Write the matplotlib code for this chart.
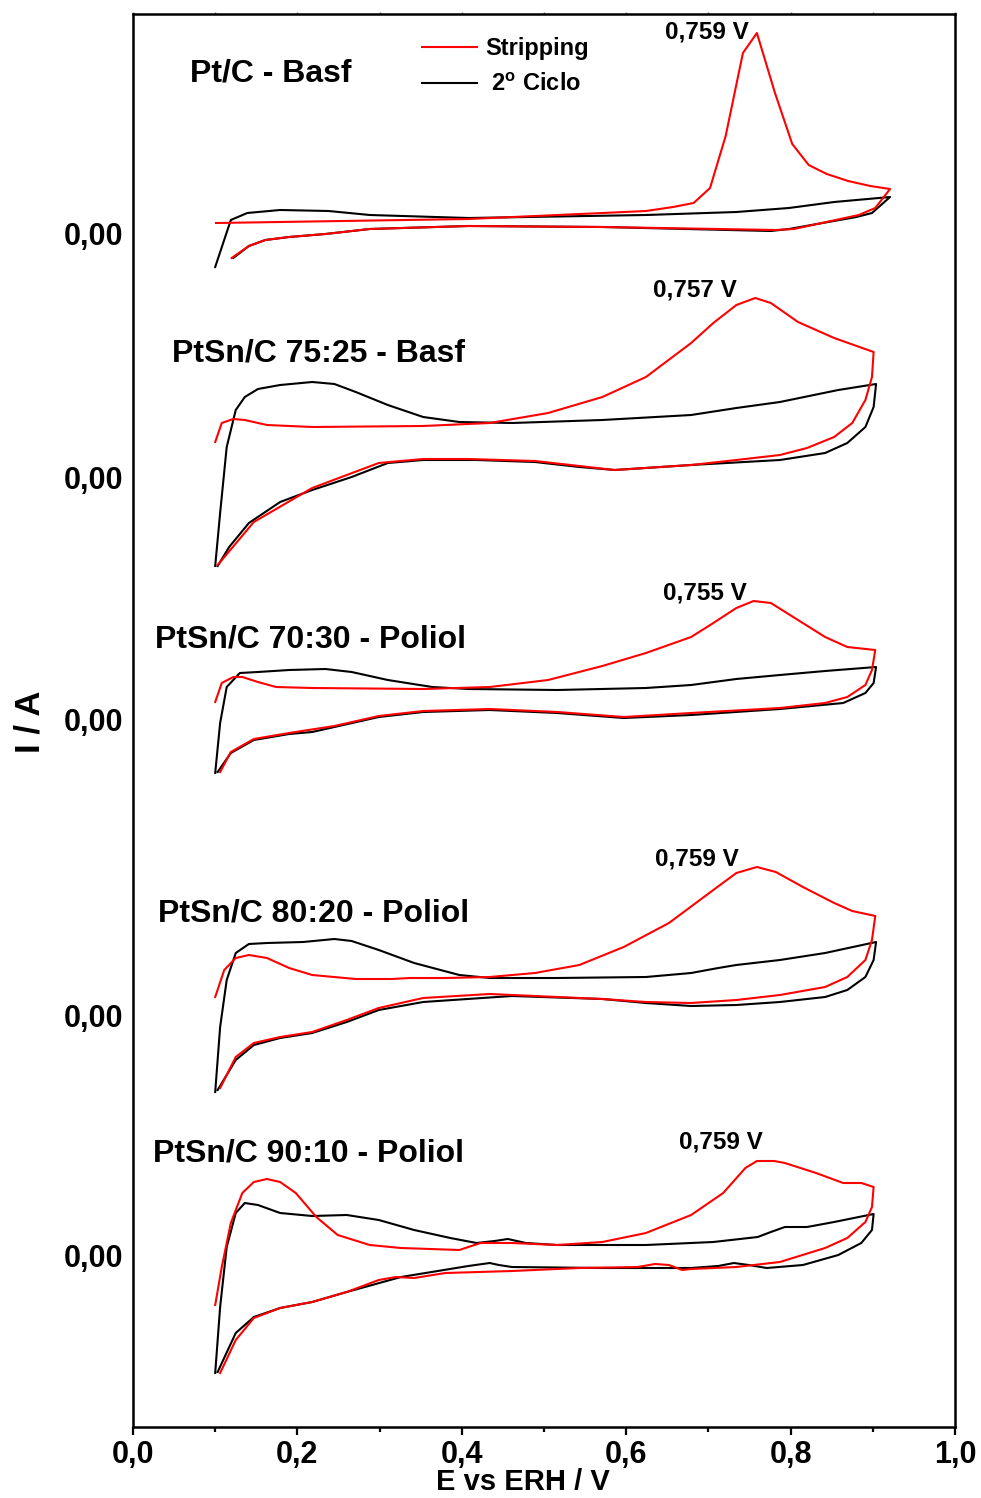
import matplotlib
matplotlib.use("Agg")
import matplotlib.pyplot as plt
from matplotlib import font_manager
from matplotlib.ticker import MultipleLocator, FuncFormatter, NullFormatter

# amostras e potencial dos picos de oxidação de CO
amostras = ["Pt/C - Basf", "PtSn/C 75:25 - Basf", "PtSn/C 70:30 - Poliol",
            "PtSn/C 80:20 - Poliol", "PtSn/C 90:10 - Poliol"]
picos = [0.759, 0.757, 0.755, 0.759, 0.759]

# Pt/C - Basf
e_strip_ptc = [0.101, 0.408, 0.571, 0.624, 0.657, 0.682, 0.702, 0.721, 0.742, 0.759, 0.781, 0.802, 0.822,
               0.844, 0.870, 0.897, 0.921, 0.903, 0.883, 0.804, 0.782, 0.571, 0.408, 0.288, 0.234, 0.190,
               0.161, 0.141, 0.120]
i_strip_ptc = [11, 15, 21, 23, 27, 31, 46, 98, 181, 201, 141, 90, 69, 60, 53, 48, 45, 26, 19, 5, 4, 7, 8,
               5, 0, -3, -6, -12, -24]
e_ciclo_ptc = [0.100, 0.119, 0.139, 0.179, 0.238, 0.288, 0.408, 0.624, 0.734, 0.798, 0.853, 0.921, 0.899,
               0.880, 0.798, 0.776, 0.571, 0.408, 0.288, 0.234, 0.190, 0.161, 0.141, 0.122]
i_ciclo_ptc = [-33, 14, 21, 24, 23, 19, 16, 19, 22, 26, 32, 37, 21, 17, 5, 3, 7, 8, 5, 0, -3, -6, -12, -24]

# PtSn/C 75:25 - Basf
e_strip_7525 = [0.100, 0.108, 0.122, 0.136, 0.163, 0.218, 0.353, 0.434, 0.505, 0.571, 0.624, 0.679, 0.706,
                0.734, 0.757, 0.776, 0.809, 0.853, 0.901, 0.899, 0.891, 0.875, 0.853, 0.820, 0.787, 0.734,
                0.679, 0.586, 0.489, 0.408, 0.353, 0.299, 0.218, 0.147, 0.103]
i_strip_7525 = [36, 55, 59, 58, 53, 51, 52, 55, 65, 81, 101, 135, 155, 173, 180, 175, 156, 140, 126, 101,
                78, 55, 41, 30, 23, 18, 13, 8, 17, 19, 19, 15, -10, -44, -87]
e_ciclo_7525 = [0.100, 0.106, 0.114, 0.125, 0.136, 0.152, 0.179, 0.218, 0.245, 0.271, 0.310, 0.353, 0.397,
                0.461, 0.571, 0.679, 0.734, 0.787, 0.858, 0.904, 0.901, 0.891, 0.869, 0.842, 0.787, 0.679,
                0.586, 0.543, 0.489, 0.418, 0.353, 0.310, 0.266, 0.218, 0.179, 0.141, 0.117, 0.103]
i_ciclo_7525 = [-88, -35, 31, 68, 81, 89, 93, 96, 94, 86, 73, 61, 56, 55, 58, 63, 70, 76, 88, 94, 71, 51,
                35, 25, 18, 13, 8, 11, 16, 18, 18, 15, 1, -12, -24, -45, -69, -88]

# PtSn/C 70:30 - Poliol
e_strip_7030 = [0.100, 0.108, 0.122, 0.133, 0.152, 0.174, 0.218, 0.353, 0.434, 0.505, 0.571, 0.624, 0.679,
                0.706, 0.734, 0.755, 0.776, 0.809, 0.842, 0.869, 0.903, 0.899, 0.891, 0.869, 0.842, 0.787,
                0.679, 0.597, 0.516, 0.434, 0.353, 0.299, 0.245, 0.190, 0.147, 0.119, 0.106]
i_strip_7030 = [17, 36, 42, 42, 37, 32, 31, 30, 32, 39, 53, 66, 82, 96, 111, 118, 116, 99, 82, 72, 69, 49,
                34, 22, 16, 11, 6, 2, 7, 10, 8, 3, -7, -14, -20, -33, -53]
e_ciclo_7030 = [0.100, 0.106, 0.114, 0.130, 0.152, 0.190, 0.234, 0.266, 0.310, 0.364, 0.408, 0.516, 0.624,
                0.679, 0.734, 0.787, 0.842, 0.904, 0.901, 0.891, 0.864, 0.787, 0.679, 0.597, 0.516, 0.434,
                0.353, 0.299, 0.245, 0.218, 0.190, 0.147, 0.119, 0.103]
i_ciclo_7030 = [-54, -4, 32, 46, 47, 49, 50, 47, 39, 32, 30, 29, 31, 34, 40, 44, 48, 52, 36, 26, 16, 10, 4,
                1, 6, 9, 7, 2, -8, -13, -15, -21, -34, -53]

# PtSn/C 80:20 - Poliol
e_strip_8020 = [0.100, 0.111, 0.125, 0.141, 0.163, 0.190, 0.218, 0.271, 0.315, 0.337, 0.380, 0.434, 0.489,
                0.543, 0.597, 0.652, 0.706, 0.734, 0.759, 0.782, 0.815, 0.853, 0.875, 0.903, 0.899, 0.891,
                0.869, 0.842, 0.787, 0.734, 0.679, 0.624, 0.571, 0.516, 0.434, 0.353, 0.299, 0.260, 0.218,
                0.179, 0.147, 0.125, 0.106]
i_strip_8020 = [18, 45, 57, 60, 57, 47, 40, 36, 36, 37, 37, 38, 42, 50, 68, 92, 125, 142, 148, 143, 128,
                112, 104, 99, 75, 55, 38, 28, 20, 15, 12, 13, 16, 18, 21, 17, 7, -5, -17, -22, -28, -42, -73]
e_ciclo_8020 = [0.100, 0.106, 0.114, 0.125, 0.141, 0.163, 0.207, 0.245, 0.266, 0.299, 0.342, 0.397, 0.434,
                0.516, 0.624, 0.679, 0.712, 0.734, 0.787, 0.842, 0.904, 0.901, 0.891, 0.869, 0.842, 0.787,
                0.734, 0.679, 0.624, 0.571, 0.461, 0.353, 0.299, 0.260, 0.218, 0.179, 0.147, 0.125, 0.103]
i_ciclo_8020 = [-77, -12, 35, 62, 71, 72, 73, 76, 74, 65, 52, 40, 37, 37, 38, 42, 47, 50, 55, 62, 73, 55,
                38, 25, 18, 13, 10, 9, 12, 16, 19, 13, 5, -7, -18, -23, -30, -45, -75]

# PtSn/C 90:10 - Poliol
e_strip_9010 = [0.100, 0.108, 0.119, 0.133, 0.147, 0.163, 0.179, 0.198, 0.223, 0.249, 0.288, 0.326, 0.397,
                0.408, 0.423, 0.461, 0.516, 0.571, 0.624, 0.679, 0.718, 0.745, 0.759, 0.780, 0.793, 0.831,
                0.864, 0.886, 0.901, 0.899, 0.891, 0.869, 0.842, 0.787, 0.734, 0.679, 0.668, 0.652, 0.635,
                0.614, 0.543, 0.461, 0.380, 0.342, 0.320, 0.299, 0.260, 0.218, 0.179, 0.147, 0.125, 0.106]
i_strip_9010 = [-49, -11, 33, 63, 74, 77, 74, 63, 39, 21, 11, 8, 6, 9, 13, 13, 11, 14, 23, 41, 63, 88, 95,
                95, 93, 83, 73, 73, 69, 49, 34, 18, 8, -6, -11, -13, -14, -9, -8, -11, -12, -15, -17, -22,
                -21, -24, -36, -46, -52, -62, -84, -117]
e_ciclo_9010 = [0.100, 0.106, 0.114, 0.125, 0.136, 0.152, 0.179, 0.218, 0.260, 0.299, 0.342, 0.386, 0.418,
                0.440, 0.456, 0.478, 0.516, 0.624, 0.706, 0.760, 0.776, 0.793, 0.820, 0.853, 0.901, 0.899,
                0.886, 0.858, 0.815, 0.771, 0.749, 0.731, 0.712, 0.679, 0.571, 0.461, 0.445, 0.434, 0.408,
                0.326, 0.260, 0.218, 0.179, 0.147, 0.125, 0.103]
i_ciclo_9010 = [-117, -51, 9, 43, 53, 51, 43, 40, 41, 36, 26, 18, 13, 15, 17, 13, 11, 11, 14, 19, 24, 29,
                29, 34, 42, 26, 13, 1, -9, -12, -9, -7, -10, -12, -12, -11, -9, -7, -10, -21, -36, -46, -52,
                -61, -77, -116]

strip = [(e_strip_ptc, i_strip_ptc), (e_strip_7525, i_strip_7525), (e_strip_7030, i_strip_7030),
         (e_strip_8020, i_strip_8020), (e_strip_9010, i_strip_9010)]
ciclo = [(e_ciclo_ptc, i_ciclo_ptc), (e_ciclo_7525, i_ciclo_7525), (e_ciclo_7030, i_ciclo_7030),
         (e_ciclo_8020, i_ciclo_8020), (e_ciclo_9010, i_ciclo_9010)]

# deslocamento vertical de cada voltamograma e posições dos textos
desloc = [1193, 949, 708, 412, 171]
pos_nome = [(0.069, 1353), (0.047, 1074), (0.027, 788), (0.030, 514), (0.024, 274)]
pos_pico = [(-6, 1), (-13, 6), (-5, 6), (-13, 6), (4, 14)]

# fontes
nomes = {f.name for f in font_manager.fontManager.ttflist}
estreita = "Liberation Sans Narrow" in nomes
plt.rcParams["font.family"] = ["Liberation Sans", "DejaVu Sans"]
plt.rcParams["font.weight"] = "bold"
plt.rcParams["mathtext.fontset"] = "custom"
plt.rcParams["mathtext.rm"] = "Liberation Sans:bold"
plt.rcParams["mathtext.bf"] = "Liberation Sans:bold"
fonte_x = ["Liberation Sans Narrow", "Liberation Sans"] if estreita else ["Liberation Sans"]
tam_x = 26 if estreita else 22
tam_rot = 25 if estreita else 21

fig = plt.figure(figsize=(9.81, 14.98), dpi=100)
ax = fig.add_axes([133 / 981, 71 / 1498, 822 / 981, 1413 / 1498])

for k in range(5):
    e, i = ciclo[k]
    ax.plot(e, [desloc[k] + v for v in i], color="black", lw=1.5, solid_joinstyle="round",
            label=r" 2$^{\mathrm{o}}$ Ciclo" if k == 0 else None)
    e, i = strip[k]
    ax.plot(e, [desloc[k] + v for v in i], color="#ff0000", lw=1.5, solid_joinstyle="round",
            label="Stripping" if k == 0 else None)

    ax.text(pos_nome[k][0], pos_nome[k][1], amostras[k], fontsize=23, fontweight="bold",
            ha="left", va="center")

    # rótulo do pico, ancorado no ponto de potencial indicado
    j = e.index(picos[k])
    ax.annotate(f"{picos[k]:.3f} V".replace(".", ","), xy=(picos[k], desloc[k] + i[j]),
                xytext=pos_pico[k], textcoords="offset points", ha="right", va="center",
                fontsize=17.5, fontweight="bold")

ax.set_xlim(0, 1.0)
ax.set_ylim(0, 1413)

ax.xaxis.set_major_locator(MultipleLocator(0.2))
ax.xaxis.set_minor_locator(MultipleLocator(0.1))
ax.xaxis.set_major_formatter(FuncFormatter(lambda v, p: f"{v:.1f}".replace(".", ",")))
ax.tick_params(axis="x", which="major", direction="out", length=6, width=1.6, pad=3, top=False)
ax.tick_params(axis="x", which="minor", direction="out", length=3.5, width=1.6, top=False)
for lb in ax.get_xticklabels():
    lb.set_family(fonte_x)
    lb.set_fontsize(tam_x)
    lb.set_fontweight("bold")

# marcas discretas no eixo superior
topo = ax.secondary_xaxis("top")
topo.xaxis.set_major_locator(MultipleLocator(0.1))
topo.xaxis.set_major_formatter(NullFormatter())
topo.tick_params(direction="out", length=1.5, width=1.0, color="#777777")
topo.spines["top"].set_visible(False)

ax.set_yticks(desloc)
ax.set_yticklabels(["0,00"] * 5, fontsize=22, fontweight="bold")
ax.tick_params(axis="y", length=0, pad=7)

for s in ax.spines.values():
    s.set_linewidth(1.8)

fig.text(523 / 981, 1 - 1482 / 1498, "E vs ERH / V", family=fonte_x, fontsize=tam_rot,
         fontweight="bold", ha="center", va="center")
fig.text(30 / 981, 1 - 722 / 1498, "I / A", fontsize=25, fontweight="bold", rotation=90,
         ha="center", va="center")

h, l = ax.get_legend_handles_labels()
ax.legend(h[::-1], l[::-1], loc="upper left", bbox_to_anchor=(0.352, 0.9835), frameon=False,
          fontsize=17, handlelength=2.3, handletextpad=0.35, labelspacing=0.55,
          borderpad=0, borderaxespad=0)

fig.savefig("out.png", dpi=100)
